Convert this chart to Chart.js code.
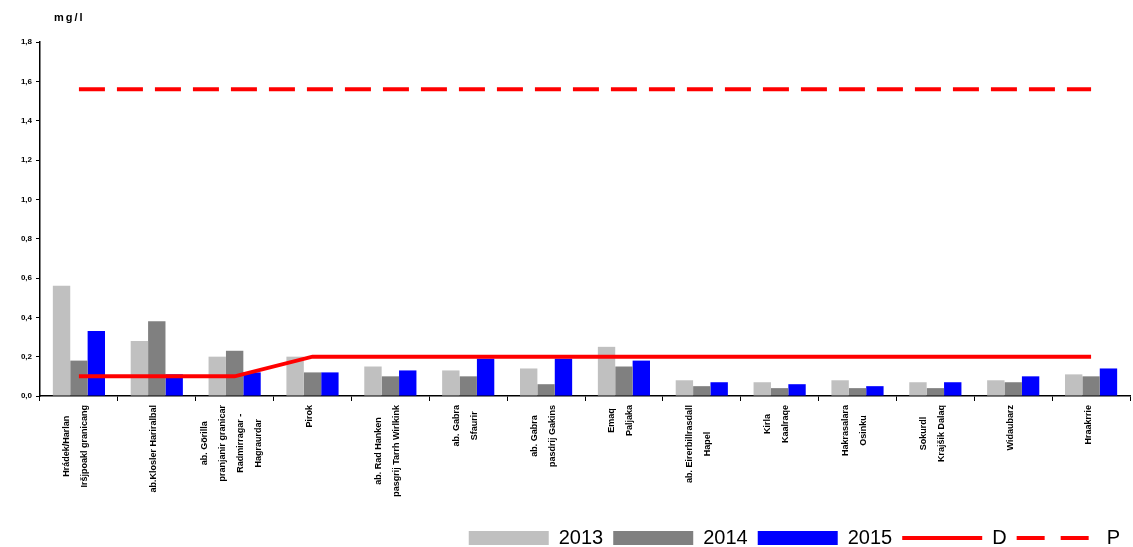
<!DOCTYPE html>
<html>
<head>
<meta charset="utf-8">
<script src="https://cdn.jsdelivr.net/npm/chart.js@4"></script>
<style>
  body { margin: 0; background: #fff; }
  #wrap { width: 1133px; height: 547px; }
</style>
</head>
<body>
<div id="wrap"><canvas id="myChart"></canvas></div>
<script>
const ctx = document.getElementById("myChart");

// stations (multi-line labels, as printed)
const stations = [
  ["Hrádek/Harlan", "Iršjpoakl granicang"],
  ["ab.Klosler Hariralbal"],
  ["ab. Görilla", "pranjanir granicar", "Radmirragar -", "Hagraurdar"],
  ["Pirok"],
  ["ab. Rad Hanken", "pasgrij Tarrh Wirlkink"],
  ["ab. Gabra", "Sfaurir"],
  ["ab. Gabra", "pasdrij Gakins"],
  ["Emaq", "Paljaka"],
  ["ab. Eirerbillrasdall", "Hapel"],
  ["Kirla", "Kaalraqe"],
  ["Hakrasalara", "Osinku"],
  ["Sokurdl", "Krajšik Dalaq"],
  ["Widaubarz"],
  ["Hraakrrie"]
];
const years = ["2013", "2014", "2015"];
const v2013 = [0.56, 0.28, 0.20, 0.20, 0.15, 0.13, 0.14, 0.25, 0.08, 0.07, 0.08, 0.07, 0.08, 0.11];
const v2014 = [0.18, 0.38, 0.23, 0.12, 0.10, 0.10, 0.06, 0.15, 0.05, 0.04, 0.04, 0.04, 0.07, 0.10];
const v2015 = [0.33, 0.11, 0.12, 0.12, 0.13, 0.19, 0.19, 0.18, 0.07, 0.06, 0.05, 0.07, 0.10, 0.14];
const limitD = [0.1, 0.1, 0.1, 0.2, 0.2, 0.2, 0.2, 0.2, 0.2, 0.2, 0.2, 0.2, 0.2, 0.2];
const limitP = [1.56, 1.56, 1.56, 1.56, 1.56, 1.56, 1.56, 1.56, 1.56, 1.56, 1.56, 1.56, 1.56, 1.56];
const unit = "mg/l";

const xLabels = {
  id: "xLabels",
  afterDraw(chart) {
    const c = chart.ctx;
    const x = chart.scales.x;
    c.save();
    c.font = 'bold 9px "Liberation Sans", Arial';
    c.fillStyle = "#000";
    c.textAlign = "center";
    c.textBaseline = "middle";
    stations.forEach((lines, i) => {
      const cx = x.getPixelForValue(i) - 3;
      const w = Math.max(...lines.map(l => c.measureText(l).width));
      const cy = x.top + 9 + w / 2;
      lines.forEach((line, j) => {
        const lx = cx + (j - (lines.length - 1) / 2) * 18;
        c.save();
        c.translate(lx, cy);
        c.rotate(-Math.PI / 2);
        c.fillText(line, 0, 0);
        c.restore();
      });
    });
    // unit
    c.font = 'bold 11px "Liberation Sans", Arial';
    c.letterSpacing = "2px";
    c.textAlign = "left";
    c.fillText(unit, chart.scales.y.right + 14, 18);
    c.restore();
  }
};

let chart = new Chart(ctx, {
  type: "bar",
  data: {
    labels: stations.map(s => s.join(" ")),
    datasets: [
      { label: years[0], data: v2013, backgroundColor: "#c0c0c0", order: 1, pointStyle: "rect" },
      { label: years[1], data: v2014, backgroundColor: "#808080", order: 1, pointStyle: "rect" },
      { label: years[2], data: v2015, backgroundColor: "#0000ff", order: 1, pointStyle: "rect" },
      { type: "line", label: "D", data: limitD, borderColor: "#ff0000", backgroundColor: "#ff0000",
        borderWidth: 4, pointRadius: 0, pointStyle: "line", order: 0 },
      { type: "line", label: "P", data: limitP, borderColor: "#ff0000", backgroundColor: "#ff0000",
        borderWidth: 4, borderDash: [26, 12], pointRadius: 0, pointStyle: "line", order: 0 }
    ]
  },
  options: {
    responsive: true,
    maintainAspectRatio: false,
    animation: false,
    datasets: {
      bar: { categoryPercentage: 0.67, barPercentage: 1.0, borderWidth: 0 }
    },
    layout: { padding: { top: 42, right: 3, bottom: -11, left: 0 } },
    plugins: {
      tooltip: { enabled: false },
      legend: {
        position: "bottom",
        align: "end",
        labels: {
          usePointStyle: true,
          pointStyleWidth: 80,
          boxHeight: 14,
          padding: 10,
          color: "#000",
          font: { family: '"Liberation Sans", Arial', size: 20, lineHeight: 1 },
          sort: (a, b) => a.datasetIndex - b.datasetIndex,
          generateLabels: (ch) => {
            const items = Chart.defaults.plugins.legend.labels.generateLabels(ch);
            items.forEach(it => {
              if (ch.data.datasets[it.datasetIndex].borderDash) it.lineDash = [28, 16];
            });
            return items;
          }
        }
      }
    },
    scales: {
      x: {
        grid: { display: true, drawOnChartArea: false, tickLength: 5, color: "#000", offset: true },
        border: { color: "#000", width: 1.5 },
        ticks: { display: false },
        afterFit: (s) => { s.height = 122; }
      },
      y: {
        min: 0,
        max: 1.8,
        grid: { display: true, drawOnChartArea: false, tickLength: 4, color: "#000" },
        border: { color: "#000", width: 1.5 },
        ticks: {
          stepSize: 0.2,
          padding: 4,
          color: "#000",
          font: { family: '"Liberation Sans", Arial', size: 8, weight: "bold" },
          callback: (v) => Number(v).toFixed(1).replace(".", ",")
        },
        afterFit: (s) => { s.width = 40; }
      }
    }
  },
  plugins: [xLabels]
});
</script>
</body>
</html>
